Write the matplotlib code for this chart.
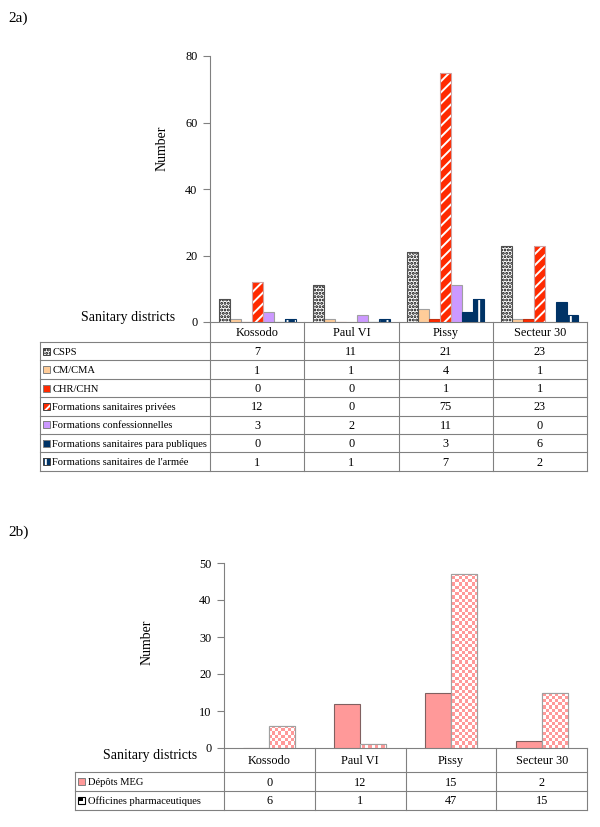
import matplotlib
matplotlib.use('Agg')
import matplotlib.pyplot as plt
import numpy as np
from matplotlib.patches import Rectangle
from matplotlib.colors import ListedColormap

plt.rcParams['font.family'] = ['Liberation Serif', 'DejaVu Serif']
plt.rcParams['hatch.linewidth'] = 1.4

W, H = 600, 827

districts = ['Kossodo', 'Paul VI', 'Pissy', 'Secteur 30']

# 2a - health facilities
facility_labels = ['CSPS', 'CM/CMA', 'CHR/CHN', 'Formations sanitaires privées',
                   'Formations confessionnelles', 'Formations sanitaires para publiques',
                   "Formations sanitaires de l'armée"]
csps             = [7, 11, 21, 23]
cm_cma           = [1, 1, 4, 1]
chr_chn          = [0, 0, 1, 1]
privees          = [12, 0, 75, 23]
confessionnelles = [3, 2, 11, 0]
para_publiques   = [0, 0, 3, 6]
armee            = [1, 1, 7, 2]
yticks_a = [0, 20, 40, 60, 80]

# 2b - pharmacies
pharmacy_labels = ['Dépôts MEG', 'Officines pharmaceutiques']
depots_meg = [0, 12, 15, 2]
officines  = [6, 1, 47, 15]
yticks_b = [0, 10, 20, 30, 40, 50]

grey = '#808080'

# fill, hatch, hatch colour, edge
styles_a = [
    ('white',   '.....', 'black', '#505050'),
    ('#FFCC99', None,    None,    '#A0A0A0'),
    ('#FF2A00', None,    None,    '#C03010'),
    ('#FF2A00', '///',   'white', '#D0A0A0'),
    ('#CC99FF', None,    None,    '#A0A0A0'),
    ('#003366', None,    None,    '#003366'),
    ('#003366', '||',    'white', '#003366'),
]
pink = '#FF9999'
styles_b = [
    (pink, None, None, '#806060'),
    (pink, 'checker', None, '#A0A0A0'),
]


def px_rect(left, top, right, bottom):
    return [left / W, (H - bottom) / H, (right - left) / W, (bottom - top) / H]


def styled_bar(ax, x, vals, width, style):
    face, hatch, hcol, edge = style
    if hatch is None or hatch == 'checker':
        bars = ax.bar(x, vals, width, color=face, edgecolor=edge, linewidth=0.8, zorder=2)
    else:
        ax.bar(x, vals, width, color=face, edgecolor=hcol, hatch=hatch, linewidth=0, zorder=2)
        bars = ax.bar(x, vals, width, fill=False, edgecolor=edge, linewidth=0.8, zorder=3)
    return bars


def checker_fill(ax, bars, ncols, nrows):
    # pink / white checkerboard texture clipped to each bar
    tex = (np.indices((nrows, ncols)).sum(axis=0) % 2)
    cmap = ListedColormap(['white', pink])
    x0, x1 = ax.get_xlim()
    y0, y1 = ax.get_ylim()
    for b in bars:
        if b.get_height() <= 0:
            continue
        im = ax.imshow(tex, cmap=cmap, extent=(x0, x1, y0, y1), aspect='auto',
                       interpolation='nearest', zorder=2.5)
        im.set_clip_path(b)
        ax.add_patch(Rectangle((b.get_x(), 0), b.get_width(), b.get_height(),
                               fill=False, edgecolor='#A0A0A0', linewidth=0.8, zorder=3))
    ax.set_xlim(x0, x1)
    ax.set_ylim(y0, y1)


def swatch(ov, x, y, style, size=7):
    face, hatch, hcol, edge = style
    if hatch == 'checker':
        ov.add_patch(Rectangle((x, y - size / 2), size, size, facecolor='white',
                               edgecolor='black', linewidth=0.8, zorder=4))
        ov.add_patch(Rectangle((x + 1.5, y - size / 2), size - 3, size / 2,
                               facecolor='black', linewidth=0, zorder=5))
        return
    if hatch:
        ov.add_patch(Rectangle((x, y - size / 2), size, size, facecolor=face,
                               edgecolor=hcol, hatch=hatch, linewidth=0, zorder=4))
    else:
        ov.add_patch(Rectangle((x, y - size / 2), size, size, facecolor=face,
                               linewidth=0, zorder=4))
    ov.add_patch(Rectangle((x, y - size / 2), size, size, fill=False,
                           edgecolor=grey if not hatch else '#404040', linewidth=0.7, zorder=5))


def draw_table(ov, left, x0, x1, top, header_h, row_h, labels, rows, styles, fs=8.8):
    ncol = len(districts)
    cw = (x1 - x0) / ncol
    bottom = top + header_h + row_h * len(rows)
    lw = 0.8
    ov.plot([x0, x1], [top, top], color=grey, lw=lw)
    for i in range(ncol + 1):
        ov.plot([x0 + i * cw] * 2, [top, bottom], color=grey, lw=lw)
    ov.plot([left, left], [top + header_h, bottom], color=grey, lw=lw)
    for j in range(len(rows) + 1):
        yy = top + header_h + j * row_h
        ov.plot([left, x1], [yy, yy], color=grey, lw=lw)
    for i, d in enumerate(districts):
        ov.text(x0 + (i + 0.5) * cw, top + header_h / 2 + 1, d, ha='center', va='center', fontsize=fs)
    for j, (lab, vals, st) in enumerate(zip(labels, rows, styles)):
        yc = top + header_h + (j + 0.5) * row_h
        swatch(ov, left + 2.5, yc, st)
        ov.text(left + 12.5, yc + 1, lab, ha='left', va='center', fontsize=7.6)
        for i, v in enumerate(vals):
            ov.text(x0 + (i + 0.5) * cw, yc + 1, str(v), ha='center', va='center', fontsize=fs)


def style_axis(ax, ymax, ticks):
    ax.set_xlim(-0.5, len(districts) - 0.5)
    ax.set_ylim(0, ymax)
    for s in ['top', 'right', 'bottom']:
        ax.spines[s].set_visible(False)
    ax.spines['left'].set_color(grey)
    ax.spines['left'].set_linewidth(0.8)
    ax.set_xticks([])
    ax.set_yticks(ticks)
    ax.tick_params(axis='y', direction='out', length=5, width=0.8, color=grey,
                   labelsize=8.8, pad=4)
    ax.patch.set_alpha(0)


fig = plt.figure(figsize=(W / 100, H / 100), dpi=100)
fig.patch.set_facecolor('white')

ov = fig.add_axes([0, 0, 1, 1], zorder=0)
ov.set_xlim(0, W)
ov.set_ylim(H, 0)
ov.axis('off')

# ---------------- 2a
ax1 = fig.add_axes(px_rect(210, 56, 587, 322), zorder=1)
series_a = [csps, cm_cma, chr_chn, privees, confessionnelles, para_publiques, armee]
x = np.arange(len(districts))
bw = 0.117
for k, (vals, st) in enumerate(zip(series_a, styles_a)):
    styled_bar(ax1, x + (k - 3) * bw, vals, bw, st)
style_axis(ax1, 80, yticks_a)

ov.text(8, 18, '2a)', fontsize=11, va='center')
ov.text(162, 148, 'Number', rotation=90, ha='center', va='center', fontsize=10)
ov.text(128, 317, 'Sanitary districts', ha='center', va='center', fontsize=10)
draw_table(ov, 40, 210, 587, 322, 20, 18.4, facility_labels, series_a, styles_a)

# ---------------- 2b
ax2 = fig.add_axes(px_rect(224, 563, 587, 748), zorder=1)
bw2 = 0.286
styled_bar(ax2, x - bw2 / 2, depots_meg, bw2, styles_b[0])
off_bars = styled_bar(ax2, x + bw2 / 2, officines, bw2, styles_b[1])
style_axis(ax2, 50, yticks_b)
checker_fill(ax2, off_bars, ncols=int((587 - 224) / 3.2), nrows=int((748 - 563) / 3.2))

ov.text(8, 532, '2b)', fontsize=11, va='center')
ov.text(147, 642, 'Number', rotation=90, ha='center', va='center', fontsize=10)
ov.text(150, 755, 'Sanitary districts', ha='center', va='center', fontsize=10)
draw_table(ov, 75, 224, 587, 748, 24, 19, pharmacy_labels, [depots_meg, officines], styles_b)

plt.savefig('out.png', dpi=100)
